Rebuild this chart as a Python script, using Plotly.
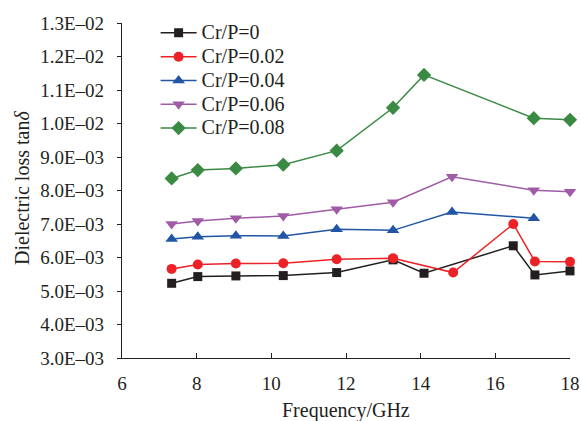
import plotly.graph_objects as go

series_names = ["Cr/P=0", "Cr/P=0.02", "Cr/P=0.04", "Cr/P=0.06", "Cr/P=0.08"]

freq_0 = [7.33, 8.03, 9.05, 10.32, 11.75, 13.26, 14.09, 16.48, 17.06, 18.0]
tand_0 = [5.23e-3, 5.43e-3, 5.45e-3, 5.46e-3, 5.55e-3, 5.93e-3, 5.53e-3, 6.35e-3, 5.48e-3, 5.60e-3]

freq_002 = [7.33, 8.03, 9.05, 10.32, 11.75, 13.26, 14.87, 16.48, 17.06, 18.0]
tand_002 = [5.66e-3, 5.79e-3, 5.82e-3, 5.83e-3, 5.95e-3, 5.98e-3, 5.55e-3, 7.00e-3, 5.88e-3, 5.87e-3]

freq_004 = [7.33, 8.03, 9.05, 10.32, 11.75, 13.26, 14.84, 17.03]
tand_004 = [6.55e-3, 6.62e-3, 6.65e-3, 6.64e-3, 6.84e-3, 6.81e-3, 7.36e-3, 7.17e-3]

freq_006 = [7.33, 8.03, 9.05, 10.32, 11.75, 13.26, 14.84, 17.03, 18.0]
tand_006 = [7.00e-3, 7.09e-3, 7.17e-3, 7.24e-3, 7.44e-3, 7.65e-3, 8.41e-3, 8.01e-3, 7.96e-3]

freq_008 = [7.33, 8.03, 9.05, 10.32, 11.75, 13.26, 14.09, 17.03, 18.0]
tand_008 = [8.36e-3, 8.61e-3, 8.66e-3, 8.77e-3, 9.19e-3, 1.047e-2, 1.145e-2, 1.016e-2, 1.011e-2]

y_tickvals = [3e-3, 4e-3, 5e-3, 6e-3, 7e-3, 8e-3, 9e-3, 1.0e-2, 1.1e-2, 1.2e-2, 1.3e-2]
y_ticktext = ["3.0E–03", "4.0E–03", "5.0E–03", "6.0E–03", "7.0E–03", "8.0E–03",
              "9.0E–03", "1.0E–02", "1.1E–02", "1.2E–02", "1.3E–02"]
x_tickvals = [6, 8, 10, 12, 14, 16, 18]

colors = ["#231f20", "#ec2227", "#2255a4", "#a05ba6", "#3a8a43"]
symbols = ["square", "circle", "triangle-up", "triangle-down", "diamond"]
sizes = [9, 10, 11, 11, 11]
xs = [freq_0, freq_002, freq_004, freq_006, freq_008]
ys = [tand_0, tand_002, tand_004, tand_006, tand_008]

font = "Liberation Serif"
fig = go.Figure()
for name, x, y, c, s, sz in zip(series_names, xs, ys, colors, symbols, sizes):
    fig.add_trace(go.Scatter(
        x=x, y=y, name='<span style="font-size:20px">' + name + '</span>',
        mode="lines+markers",
        line=dict(color=c, width=1.5),
        marker=dict(color=c, symbol=s, size=sz, line=dict(width=0)),
        cliponaxis=False,
    ))

fig.update_layout(
    width=581, height=421,
    margin=dict(l=122, r=11, t=23, b=63, autoexpand=False),
    paper_bgcolor="white", plot_bgcolor="white",
    font=dict(family=font, size=19, color="#231f20"),
    showlegend=True,
    legend=dict(x=0.075, y=1.021, xanchor="left", yanchor="top", itemwidth=36,
                font=dict(family=font, size=16, color="#231f20"),
                bgcolor="rgba(0,0,0,0)", borderwidth=0, tracegroupgap=0),
    xaxis=dict(range=[6, 18], tickvals=x_tickvals, ticks="inside", ticklen=5,
               tickcolor="#231f20", showline=True, linecolor="#231f20", linewidth=1.2,
               showgrid=False, zeroline=False, ticklabelstandoff=8, automargin=False,
               tickfont=dict(family=font, size=19)),
    yaxis=dict(range=[3e-3, 1.3e-2], tickvals=y_tickvals, ticktext=y_ticktext,
               ticks="outside", ticklen=4, tickcolor="#231f20",
               showline=True, linecolor="#231f20", linewidth=1.2,
               showgrid=False, zeroline=False, ticklabelstandoff=9, automargin=False,
               tickfont=dict(family=font, size=19)),
    annotations=[
        dict(text="Dielectric loss tan<i>δ</i>", textangle=-90,
             xref="paper", yref="paper", x=(22 - 122) / 448, y=1 - (188 - 23) / 335,
             xanchor="center", yanchor="middle", showarrow=False,
             font=dict(family=font, size=20, color="#231f20")),
        dict(text="Frequency/GHz",
             xref="paper", yref="paper", x=0.5, y=(358 - 410) / 335,
             xanchor="center", yanchor="middle", showarrow=False,
             font=dict(family=font, size=20, color="#231f20")),
    ],
)

fig.write_html("out.html", config={"displayModeBar": False},
               post_script="document.body.style.margin='0';")
